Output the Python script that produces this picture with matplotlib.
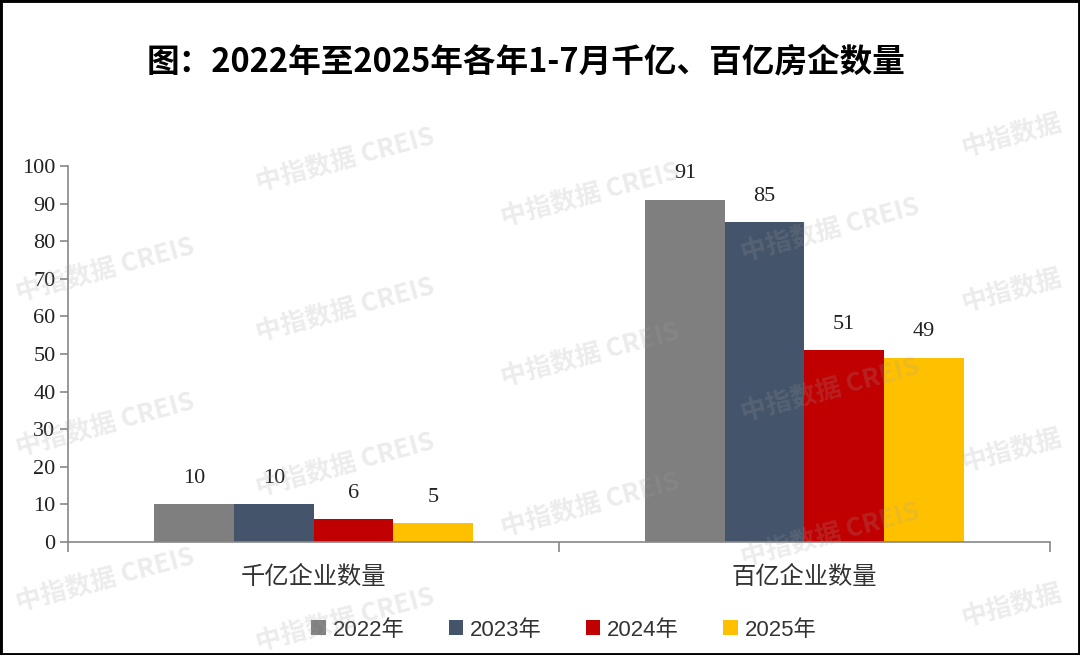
import matplotlib

matplotlib.use("Agg")
import matplotlib.pyplot as plt
import numpy as np
from matplotlib.patches import Rectangle

categories = ["千亿企业数量", "百亿企业数量"]
years = ["2022年", "2023年", "2024年", "2025年"]
counts = {
    "2022年": [10, 91],
    "2023年": [10, 85],
    "2024年": [6, 51],
    "2025年": [5, 49],
}
colors = ["#7f7f7f", "#44546a", "#c00000", "#ffc000"]
title = "图：2022年至2025年各年1-7月千亿、百亿房企数量"

cjk = ["Noto Sans CJK SC", "DejaVu Sans"]
serif = ["Liberation Serif", "DejaVu Serif"]
sans = ["Liberation Sans", "Noto Sans CJK SC"]

fig = plt.figure(figsize=(10.8, 6.55), dpi=100)
ax = fig.add_axes([0.0630, 0.1725, 0.9092, 0.5741])

x = np.arange(len(categories))
width = 0.162
for i, (year, color) in enumerate(zip(years, colors)):
    offs = (i - 1.5) * width
    bars = ax.bar(x + offs, counts[year], width, color=color, label=year, zorder=2)
    for b, v in zip(bars, counts[year]):
        ax.annotate(str(v), (b.get_x() + b.get_width() / 2, v), xytext=(0, 12),
                    textcoords="offset points", ha="center", va="bottom",
                    fontsize=16, family=serif, color="#222222")

ax.set_xlim(-0.5, 1.5)
ax.set_ylim(0, 100)
ax.set_yticks(np.arange(0, 101, 10))
ax.set_xticks(x)
ax.set_xticklabels(categories, family=cjk, fontsize=17.5, color="#333333")
ax.set_xticks([-0.5, 0.5, 1.5], minor=True)
ax.tick_params(axis="x", which="major", length=0, pad=16)
ax.tick_params(axis="x", which="minor", length=7, color="#888888", width=1.2)
ax.tick_params(axis="y", length=6, color="#888888", width=1.2, labelsize=16, pad=3)
for lab in ax.get_yticklabels():
    lab.set_family(serif)
    lab.set_color("#222222")
for s in ["top", "right"]:
    ax.spines[s].set_visible(False)
for s in ["left", "bottom"]:
    ax.spines[s].set_color("#888888")
    ax.spines[s].set_linewidth(1.2)

leg = ax.legend(loc="center", bbox_to_anchor=(0.522, 1 - 630 / 655), bbox_transform=fig.transFigure,
                ncol=4, frameon=False, handlelength=0.65, handleheight=0.65, handletextpad=0.3,
                columnspacing=2.0, prop={"family": sans, "size": 16})
for t in leg.get_texts():
    t.set_color("#333333")

fig.text(0.487, 1 - 62 / 655, title, ha="center", va="center", fontsize=23.5,
         fontweight="bold", family=cjk)

# watermark
marks = [(105, [270, 425, 580]), (345, [160, 310, 465, 620]), (590, [195, 355, 505]),
         (830, [230, 390, 535])]
for cx, ys in marks:
    for cy in ys:
        fig.text(cx / 1080, 1 - cy / 655, "中指数据 CREIS", ha="center", va="center",
                 rotation=15, fontsize=18.5, fontweight="bold", family=cjk,
                 color="#a0a0a0", alpha=0.2, zorder=10)
for cy in [135, 290, 450, 605]:
    fig.text(1012 / 1080, 1 - cy / 655, "中指数据", ha="center", va="center",
             rotation=15, fontsize=18.5, fontweight="bold", family=cjk,
             color="#a0a0a0", alpha=0.2, zorder=10)

fig.patches.append(Rectangle((0, 0), 1, 1, transform=fig.transFigure, fill=False,
                             edgecolor="black", linewidth=3.5, zorder=20))

fig.savefig("out.png", dpi=100)
